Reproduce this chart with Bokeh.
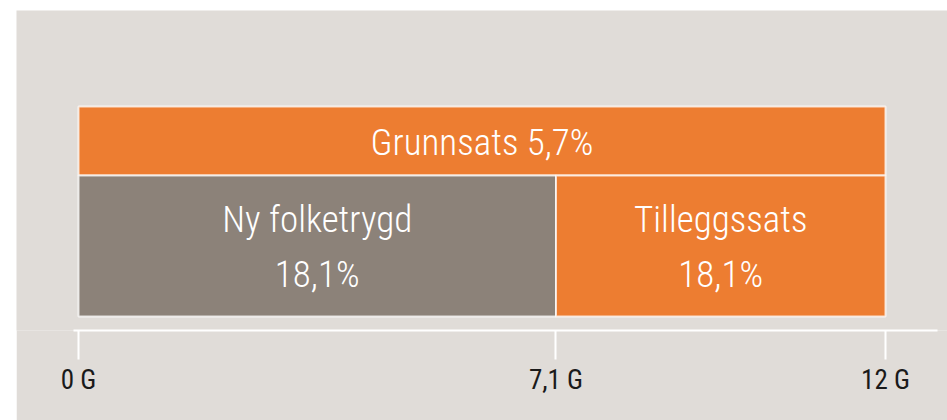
from bokeh.plotting import figure
from bokeh.models import ColumnDataSource, Range1d, FixedTicker, Spacer
from bokeh.layouts import row, column
from bokeh.core.properties import value
from bokeh.embed import file_html
from bokeh.resources import INLINE

# ---- data ----
segments = ["Grunnsats", "Ny folketrygd", "Tilleggssats"]
rates = [5.7, 18.1, 18.1]          # percent
seg_from = [0.0, 0.0, 7.1]         # G
seg_to = [12.0, 7.1, 12.0]         # G
seg_row = [1, 0, 0]                # 1 = upper band, 0 = lower band
tick_values = [0, 7.1, 12]
tick_labels = ["0 G", "7,1 G", "12 G"]

# ---- style ----
FONT = "Roboto Condensed Light, Roboto Condensed"
TICK_FONT = "Roboto Condensed"
BG = "#E0DCD8"
ROW_BOTTOM = {0: 14, 1: 155}
ROW_TOP = {0: 155, 1: 224}
FILLS = {"Grunnsats": "#ED7D31", "Ny folketrygd": "#8C8279", "Tilleggssats": "#ED7D31"}


def fmt(r):
    return f"{r:.1f}".replace(".", ",") + "%"


bars = ColumnDataSource(dict(
    left=seg_from, right=seg_to,
    bottom=[ROW_BOTTOM[r] for r in seg_row],
    top=[ROW_TOP[r] for r in seg_row],
    fill=[FILLS[s] for s in segments],
))

p = figure(width=931, height=410,
           x_range=Range1d(-0.922, 12.922), y_range=Range1d(0, 320),
           output_backend="svg", toolbar_location=None,
           min_border_left=0, min_border_right=0,
           min_border_top=0, min_border_bottom=90)

p.quad(left="left", right="right", bottom="bottom", top="top", source=bars,
       fill_color="fill", line_color="white", line_width=2, line_alpha=0.75)

# labels
one_x, one_y, one_t = [], [], []
two_x, two_y, two_a, two_b = [], [], [], []
for s, r, a, b, rw in zip(segments, rates, seg_from, seg_to, seg_row):
    xm = (a + b) / 2
    ym = (ROW_BOTTOM[rw] + ROW_TOP[rw]) / 2
    if rw == 1:
        one_x.append(xm); one_y.append(ym); one_t.append(f"{s} {fmt(r)}")
    else:
        two_x.append(xm); two_y.append(ym); two_a.append(s); two_b.append(fmt(r))

txt = dict(text_color="white", text_font=value(FONT), text_font_size="37px",
           text_align="center", text_baseline="middle")
p.text(x=one_x, y=one_y, text=one_t, y_offset=1, **txt)
p.text(x=two_x, y=two_y, text=two_a, y_offset=-27, **txt)
p.text(x=two_x, y=two_y, text=two_b, y_offset=28, **txt)

# axes
p.yaxis.visible = False
p.grid.visible = False
ax = p.xaxis[0]
ax.ticker = FixedTicker(ticks=tick_values)
ax.major_label_overrides = dict(zip(tick_values, tick_labels))
ax.bounds = (-0.074, 12.77)
ax.axis_line_color = "white"
ax.axis_line_width = 2
ax.major_tick_line_color = "white"
ax.major_tick_line_width = 2
ax.major_tick_in = 0
ax.major_tick_out = 29
ax.minor_tick_line_color = None
ax.major_label_standoff = 4
ax.major_label_text_font = TICK_FONT
ax.major_label_text_font_size = "27px"
ax.major_label_text_color = "#1A1A1A"

p.background_fill_color = BG
p.border_fill_color = BG
p.outline_line_color = None

layout = column(Spacer(width=947, height=10), row(Spacer(width=16, height=410), p))

open("out.html", "w").write(file_html(layout, INLINE))
